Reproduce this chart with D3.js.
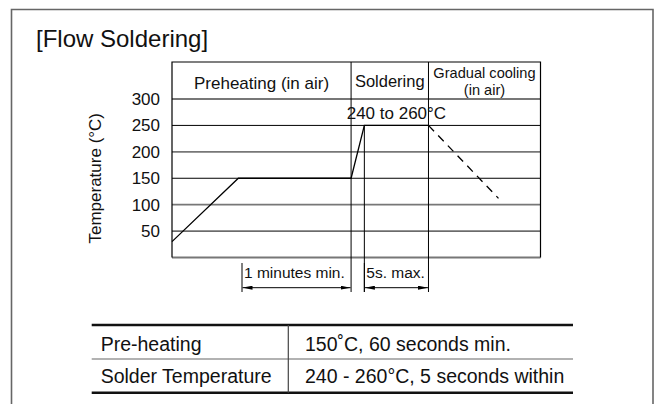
<!DOCTYPE html>
<html>
<head>
<meta charset="utf-8">
<script src="https://cdn.jsdelivr.net/npm/d3@7"></script>
<style>
  html, body { margin: 0; padding: 0; background: #fff; }
  svg text { font-family: "Liberation Sans", Arial, Helvetica, sans-serif; fill: #111; }
</style>
</head>
<body>
<svg id="chart" width="658" height="404"></svg>
<script>
// Temperature axis ticks (°C)
const tempTicks = [50, 100, 150, 200, 250, 300];

// Soldering profile: time (schematic units) vs temperature (°C)
const profileTime = [0, 18, 48.6, 52.2, 69.6];
const profileTemp = [30, 150, 150, 250, 250];

// Gradual cooling segment (dashed)
const coolingTime = [69.6, 88.6];
const coolingTemp = [250, 112];

// Process phases along the time axis
const phaseLabels = [["Preheating (in air)"], ["Soldering"], ["Gradual cooling", "(in air)"]];
const phaseBounds = [0, 48.6, 69.6, 100];

// Duration markers under the chart
const spanLabels = ["1 minutes min.", "5s. max."];
const spanStart = [19, 52.2];
const spanEnd = [48.6, 69.6];

const peakLabel = "240 to 260°C";

// Condition table
const tableItems = ["Pre-heating", "Solder Temperature"];
const tableConditions = ["150˚C, 60 seconds min.", "240 - 260°C, 5 seconds within"];

const svg = d3.select("#chart");

// Outer frame (open at the bottom)
svg.append("path")
  .attr("d", "M11.5,404 V9.5 H653 V404")
  .attr("fill", "none").attr("stroke", "#666").attr("stroke-width", 1.6);

svg.append("text")
  .attr("x", 36).attr("y", 46.5)
  .attr("font-size", 24)
  .text("[Flow Soldering]");

const x = d3.scaleLinear().domain([0, 100]).range([172, 540.5]);
const y = d3.scaleLinear().domain([0, 300]).range([257.5, 99]);
const boxTop = 62;

// Horizontal grid (including the bottom edge at 0)
const gridVals = [0].concat(tempTicks);
svg.append("g").selectAll("line").data(gridVals).join("line")
  .attr("x1", x(0)).attr("x2", x(100))
  .attr("y1", d => y(d)).attr("y2", d => y(d))
  .attr("stroke", d => (d / 50) % 2 === 0 ? "#777" : "#000")
  .attr("stroke-width", d => (d / 50) % 2 === 0 ? 1.8 : 1);

// Box top and side borders
svg.append("path")
  .attr("d", `M${x(0)},${y(0)} V${boxTop} H${x(100)} V${y(0)}`)
  .attr("fill", "none").attr("stroke", "#000").attr("stroke-width", 1.2);

// Y axis labels
const yAxis = d3.axisLeft(y).tickValues(tempTicks).tickSize(0).tickPadding(12);
const gy = svg.append("g").attr("transform", `translate(${x(0)},0)`).call(yAxis);
gy.select(".domain").remove();
gy.selectAll("text")
  .attr("font-size", 17)
  .attr("font-family", "'Liberation Sans', Arial, sans-serif")
  .attr("fill", "#111");

svg.append("text")
  .attr("transform", `translate(101,${(y(0) + y(300)) / 2}) rotate(-90)`)
  .attr("text-anchor", "middle")
  .attr("font-size", 17)
  .text("Temperature (°C)");

// Phase dividers spanning header and chart, extended to the duration markers
const markerBottom = 292;
const dividers = phaseBounds.slice(1, -1);
svg.append("g").selectAll("line").data(dividers).join("line")
  .attr("x1", d => x(d)).attr("x2", d => x(d))
  .attr("y1", boxTop).attr("y2", markerBottom)
  .attr("stroke", "#000").attr("stroke-width", 1);

// Guide line at the start of the peak
svg.append("line")
  .attr("x1", x(profileTime[3])).attr("x2", x(profileTime[3]))
  .attr("y1", y(profileTemp[3])).attr("y2", markerBottom)
  .attr("stroke", "#000").attr("stroke-width", 1);

// Phase labels in the header row
const phaseFont = [17, 16.5, 14.6];
const phaseBase = [[89], [87], [78, 94.5]];
phaseLabels.forEach((lines, i) => {
  const cx = (x(phaseBounds[i]) + x(phaseBounds[i + 1])) / 2;
  lines.forEach((t, j) => {
    svg.append("text")
      .attr("x", cx).attr("y", phaseBase[i][j])
      .attr("text-anchor", "middle")
      .attr("font-size", phaseFont[i])
      .text(t);
  });
});

// Peak temperature label
svg.append("text")
  .attr("x", (x(profileTime[3]) + x(profileTime[4])) / 2)
  .attr("y", 119)
  .attr("text-anchor", "middle")
  .attr("font-size", 17)
  .text(peakLabel);

// Profile line
const line = d3.line().x(d => x(d[0])).y(d => y(d[1]));
svg.append("path")
  .attr("d", line(d3.zip(profileTime, profileTemp)))
  .attr("fill", "none").attr("stroke", "#000").attr("stroke-width", 1.3);

svg.append("path")
  .attr("d", line(d3.zip(coolingTime, coolingTemp)))
  .attr("fill", "none").attr("stroke", "#000").attr("stroke-width", 1.3)
  .attr("stroke-dasharray", "8,6");

// Duration markers
const defs = svg.append("defs");
["start", "end"].forEach(k => {
  defs.append("marker")
    .attr("id", "arrow-" + k)
    .attr("viewBox", "0 0 10 4")
    .attr("refX", k === "end" ? 10 : 0).attr("refY", 2)
    .attr("markerWidth", 10).attr("markerHeight", 4)
    .attr("markerUnits", "userSpaceOnUse")
    .attr("orient", "auto")
    .append("path")
    .attr("d", k === "end" ? "M0,0 L10,2 L0,4 Z" : "M10,0 L0,2 L10,4 Z")
    .attr("fill", "#000");
});

const arrowY = 287.7;
spanLabels.forEach((t, i) => {
  const x0 = x(spanStart[i]), x1 = x(spanEnd[i]);
  svg.append("line")
    .attr("x1", x0).attr("x2", x0).attr("y1", 263).attr("y2", markerBottom)
    .attr("stroke", "#000").attr("stroke-width", 1);
  svg.append("line")
    .attr("x1", x0 + 0.5).attr("x2", x1 - 0.5).attr("y1", arrowY).attr("y2", arrowY)
    .attr("stroke", "#000").attr("stroke-width", 1)
    .attr("marker-start", "url(#arrow-start)")
    .attr("marker-end", "url(#arrow-end)");
  svg.append("text")
    .attr("x", x0 + 2).attr("y", 278)
    .attr("font-size", 15.5)
    .text(t);
});

// Condition table
const tLeft = 91.7, tMid = 288.3, tRight = 573;
const tTop = 325, tRowMid = 359, tBottom = 392.7;
svg.append("line").attr("x1", tLeft).attr("x2", tRight).attr("y1", tTop).attr("y2", tTop)
  .attr("stroke", "#111").attr("stroke-width", 2.4);
svg.append("line").attr("x1", tLeft).attr("x2", tRight).attr("y1", tRowMid).attr("y2", tRowMid)
  .attr("stroke", "#666").attr("stroke-width", 1.2);
svg.append("line").attr("x1", tLeft).attr("x2", tRight).attr("y1", tBottom).attr("y2", tBottom)
  .attr("stroke", "#111").attr("stroke-width", 2.4);
svg.append("line").attr("x1", tMid).attr("x2", tMid).attr("y1", tTop).attr("y2", tBottom)
  .attr("stroke", "#444").attr("stroke-width", 1.2);

const rowBase = [351, 383.3];
tableItems.forEach((t, i) => {
  svg.append("text").attr("x", 100.7).attr("y", rowBase[i])
    .attr("font-size", 19.5).text(t);
  svg.append("text").attr("x", 305).attr("y", rowBase[i])
    .attr("font-size", 19.5).text(tableConditions[i]);
});
</script>
</body>
</html>
